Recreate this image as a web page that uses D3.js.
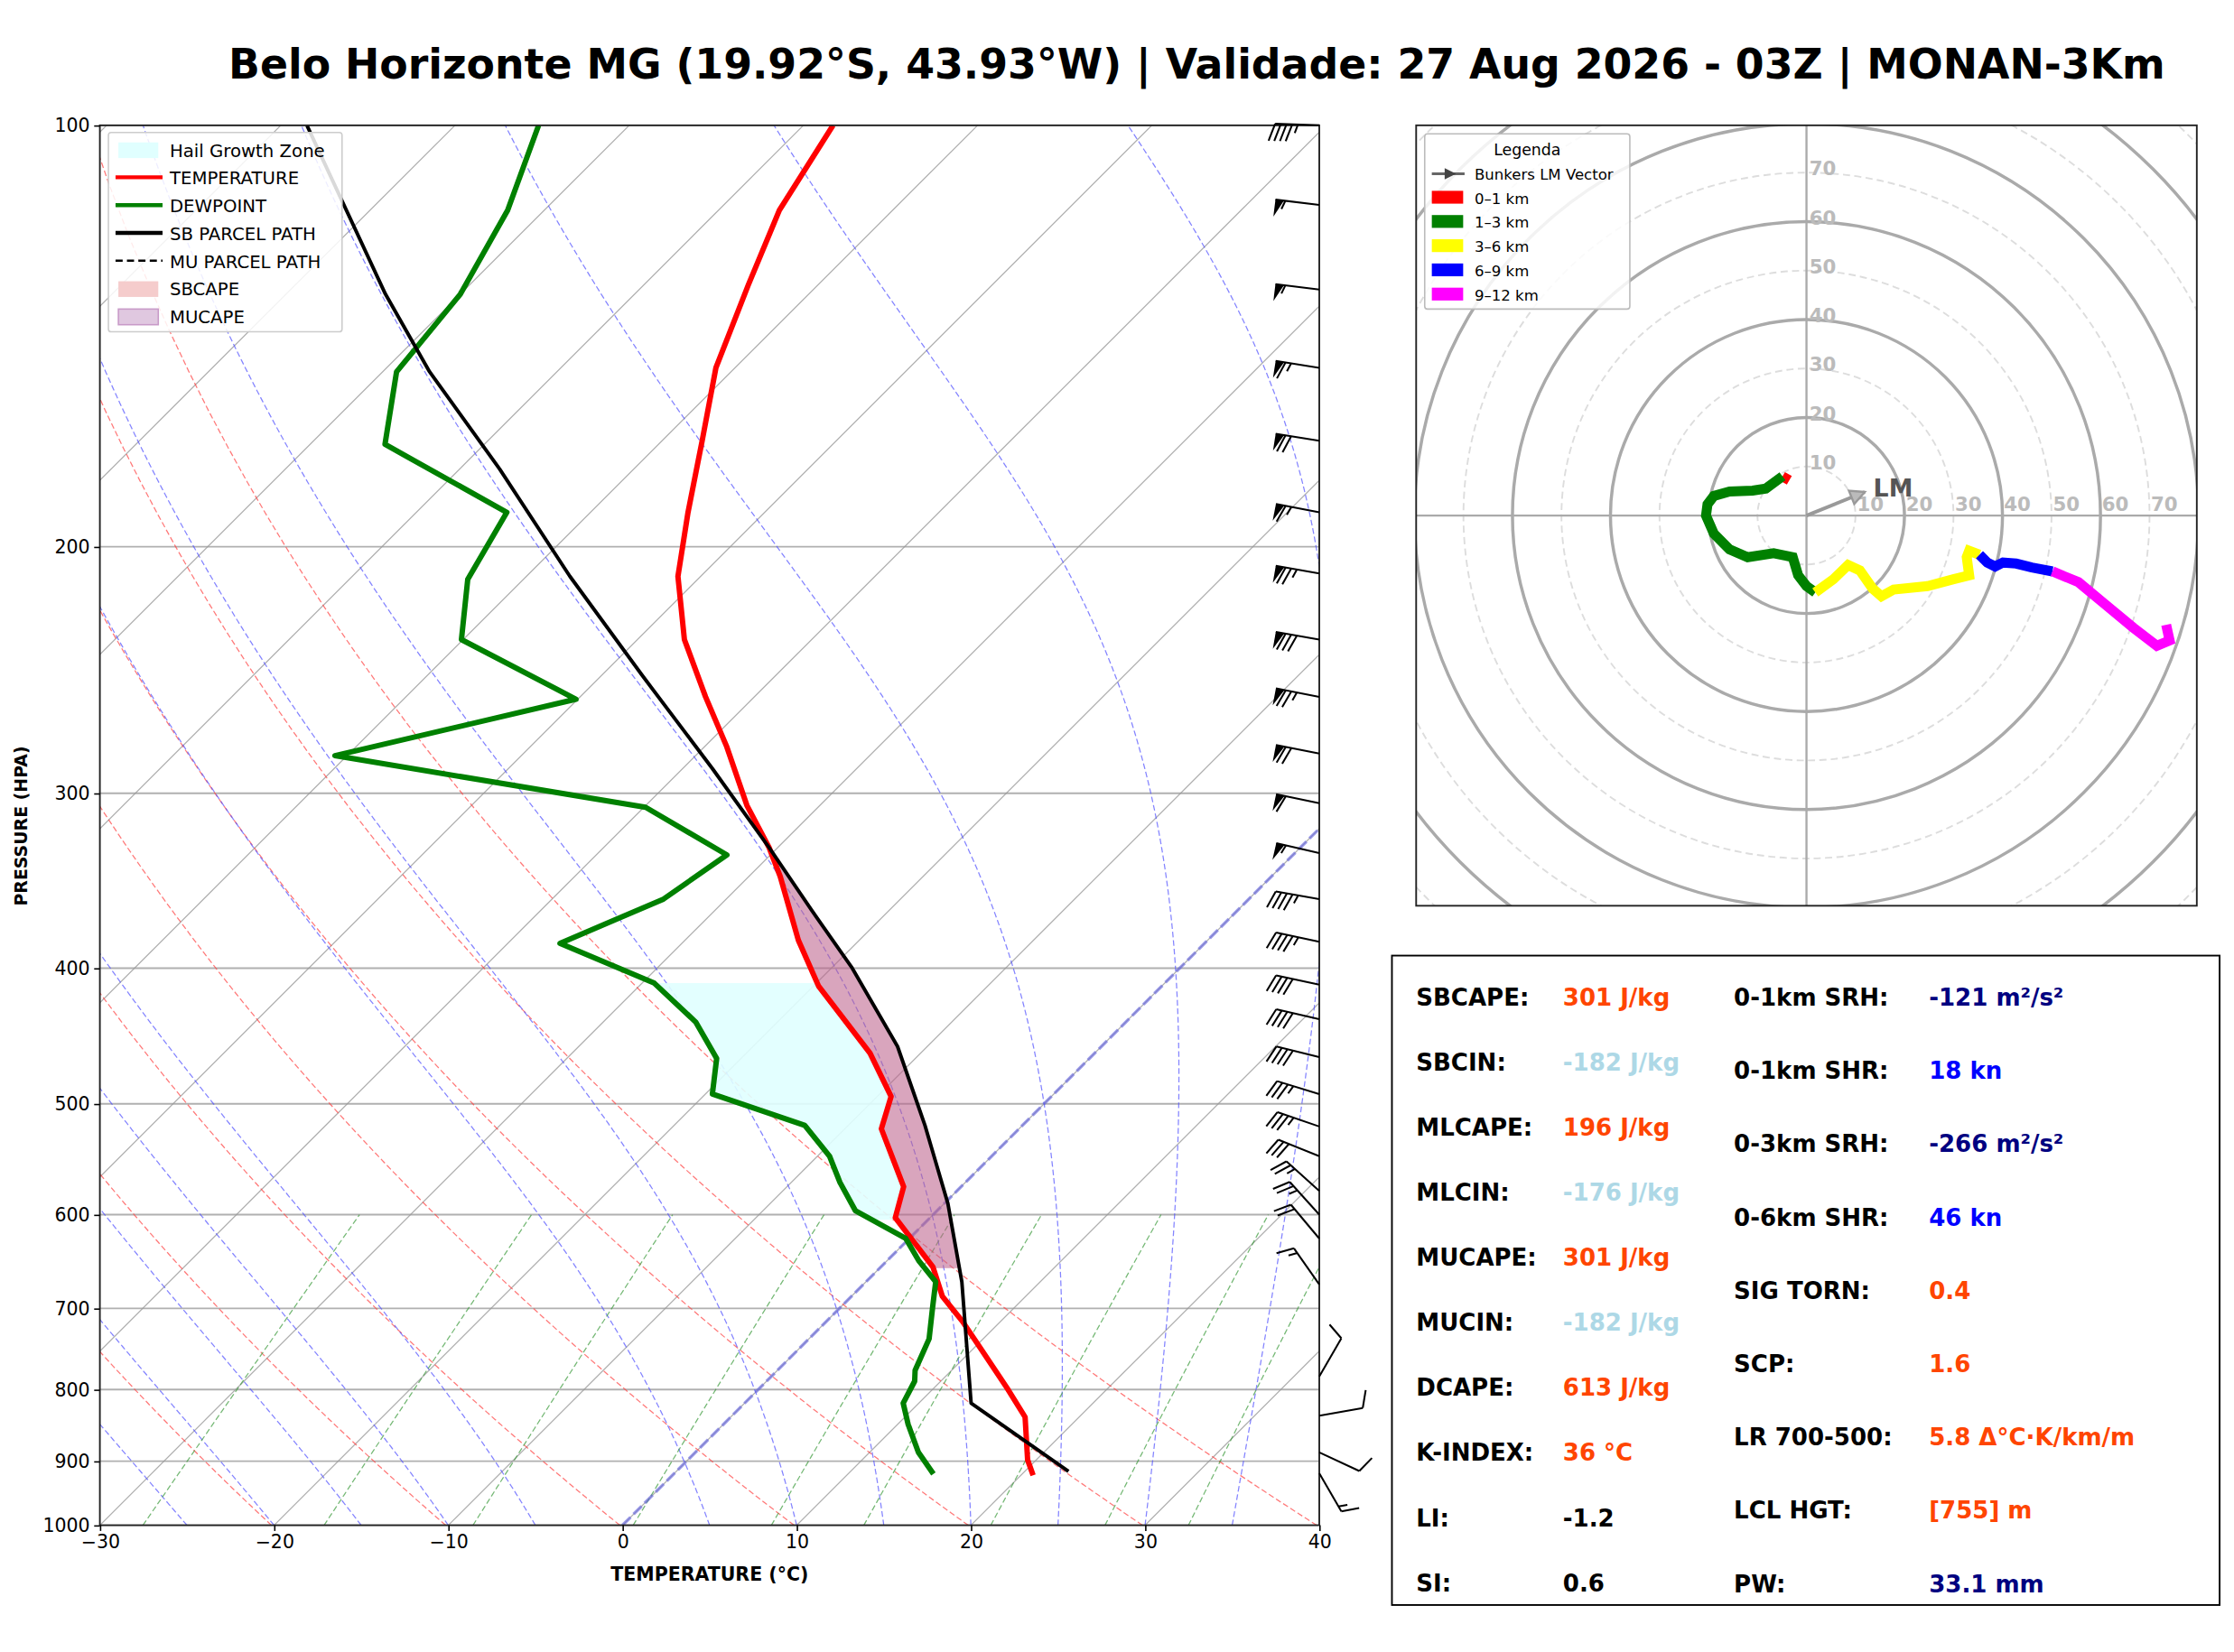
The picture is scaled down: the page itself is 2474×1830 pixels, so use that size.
<!DOCTYPE html>
<html>
<head>
<meta charset="utf-8">
<script src="https://d3js.org/d3.v7.min.js"></script>
<style>
  body { margin: 0; background: white; }
  text { font-family: "DejaVu Sans", sans-serif; }
</style>
</head>
<body>
<div id="chart"></div>
<script>
// ---- sounding data ----
var tempP = [921, 898, 837, 798, 745, 715, 686, 654, 603, 573, 521, 494, 460, 412, 382, 344, 328, 306, 278, 256, 233, 210, 189, 168, 149, 130, 115, 100];
var tempT = [20.7, 19.5, 16.9, 14.2, 10.2, 7.8, 5.2, 3.0, -2.0, -3.3, -7.9, -9.2, -12.9, -19.7, -23.5, -28.2, -30.5, -34.2, -38.7, -42.8, -47.3, -51.3, -54.4, -57.7, -61.1, -64.0, -66.5, -68.3];
var dewP = [919, 887, 847, 818, 789, 775, 736, 699, 670, 647, 624, 596, 569, 545, 518, 492, 464, 437, 410, 384, 357, 332, 307, 282, 257, 233, 211, 189, 169, 150, 132, 115, 100];
var dewT = [14.9, 12.8, 10.6, 9.1, 8.5, 7.9, 6.9, 5.3, 4.0, 1.8, -0.2, -4.7, -7.2, -9.3, -12.5, -19.6, -21.4, -24.7, -29.3, -37.0, -33.6, -32.5, -39.9, -60.7, -50.1, -60.1, -63.2, -64.8, -75.7, -79.2, -80.0, -82.1, -85.2];
var parcelP = [915, 818, 670, 589, 518, 455, 400, 364, 328, 288, 247, 210, 176, 150, 132, 114, 100];
var parcelT = [22.5, 13.0, 5.5, 0.2, -5.6, -11.7, -18.8, -24.4, -30.5, -38.3, -47.7, -57.5, -67.7, -77.3, -84.3, -91.8, -98.5];
var capeRange = [655, 330];
var hailRange = [605, 410];

// wind barbs
var barbP = [100, 114, 131, 149, 168, 189, 209, 233, 256, 281, 305, 331, 357, 383, 411, 435, 463, 492, 519, 545, 577, 600, 624, 673, 783, 835, 887, 918];
var barbSpd = [45, 55, 55, 65, 70, 65, 75, 80, 75, 70, 60, 55, 45, 45, 40, 40, 40, 35, 35, 30, 25, 25, 20, 15, 10, 10, 10, 15];
var barbDir = [272, 277, 277, 279, 279, 281, 280, 280, 281, 281, 282, 283, 280, 282, 282, 283, 284, 287, 289, 292, 312, 318, 320, 325, 30, 80, 115, 150];

// hodograph (kn)
var hodoSegments = [
  {name: "0–1 km", color: "red", u: [-3.5, -4.9], v: [7.2, 8.0]},
  {name: "1–3 km", color: "green", u: [-4.9, -8.3, -11, -15.7, -18.9, -20.2, -20.5, -18.9, -15.7, -12, -6.7, -2.8, -1.7, 0, 1.8],
                                  v: [8.0, 5.5, 5.1, 4.9, 4.0, 2.3, 0, -3.7, -6.9, -8.5, -7.7, -8.5, -12.2, -14.4, -15.7]},
  {name: "3–6 km", color: "yellow", u: [1.8, 5.5, 8.5, 10.9, 13.5, 15.3, 17.8, 24.7, 30, 33.2, 32.7, 33.2, 35.3],
                                   v: [-15.7, -13, -10.1, -11.2, -14.9, -16.5, -15.1, -14.4, -13, -12.2, -8.5, -7.2, -8]},
  {name: "6–9 km", color: "blue", u: [35.3, 36.9, 38.5, 40.1, 42.8, 46, 50.2], v: [-8, -9.6, -10.4, -9.6, -9.8, -10.6, -11.4]},
  {name: "9–12 km", color: "magenta", u: [50.2, 55.5, 60.9, 66.7, 71.5, 74.1, 73.4], v: [-11.4, -13.6, -18.1, -22.9, -26.6, -25.5, -22.3]}
];
var bunkersLM = [11.9, 4.8];

var statsLeft = [
  ["SBCAPE:", "301 J/kg", "#ff4500"], ["SBCIN:", "-182 J/kg", "#add8e6"], ["MLCAPE:", "196 J/kg", "#ff4500"],
  ["MLCIN:", "-176 J/kg", "#add8e6"], ["MUCAPE:", "301 J/kg", "#ff4500"], ["MUCIN:", "-182 J/kg", "#add8e6"],
  ["DCAPE:", "613 J/kg", "#ff4500"], ["K-INDEX:", "36 °C", "#ff4500"], ["LI:", "-1.2", "black"], ["SI:", "0.6", "black"]];
var statsRight = [
  ["0-1km SRH:", "-121 m²/s²", "#000080"], ["0-1km SHR:", "18 kn", "#0000ff"], ["0-3km SRH:", "-266 m²/s²", "#000080"],
  ["0-6km SHR:", "46 kn", "#0000ff"], ["SIG TORN:", "0.4", "#ff4500"], ["SCP:", "1.6", "#ff4500"],
  ["LR 700-500:", "5.8 Δ°C·K/km/m", "#ff4500"], ["LCL HGT:", "[755] m", "#ff4500"], ["PW:", "33.1 mm", "#000080"]];

var W = 1568, H = 1160;
var svg = d3.select("#chart").append("svg")
  .attr("width", 2474).attr("height", 1830)
  .attr("viewBox", [0, 0, W, H]);

svg.append("text").attr("x", 840).attr("y", 55).attr("text-anchor", "middle")
  .attr("font-size", 29).attr("font-weight", "bold")
  .text("Belo Horizonte MG (19.92°S, 43.93°W) | Validade: 27 Aug 2026 - 03Z | MONAN-3Km");

// ---- skew-T ----
var L = 70, R = 926, T0 = 88, B = 1071;
var xT = d3.scaleLinear().domain([-30, 40]).range([L, R]);
var yP = d3.scaleLog().domain([1000, 100]).range([B, T0]);
function sx(t, p) { return xT(t) + (B - yP(p)); }

svg.append("clipPath").attr("id", "clip").append("rect")
  .attr("x", L).attr("y", T0).attr("width", R - L).attr("height", B - T0);
var g = svg.append("g").attr("clip-path", "url(#clip)");

var line = d3.line().x(d => sx(d[1], d[0])).y(d => yP(d[0]));
var pLevels = d3.range(1000, 99, -10);

// isobars
[100, 200, 300, 400, 500, 600, 700, 800, 900, 1000].forEach(p => {
  g.append("line").attr("x1", L).attr("x2", R).attr("y1", yP(p)).attr("y2", yP(p))
    .attr("stroke", "#b0b0b0").attr("stroke-width", 1.2);
});
// isotherms
d3.range(-120, 41, 10).forEach(t => {
  g.append("path").attr("d", line([[1000, t], [100, t]])).attr("fill", "none")
    .attr("stroke", "#999").attr("stroke-width", 0.8).attr("opacity", 0.8);
});
// dry adiabats
d3.range(243, 314, 10).forEach(th => {
  var pts = pLevels.map(p => [p, th * Math.pow(p / 1000, 0.2857) - 273.15]);
  g.append("path").attr("d", line(pts)).attr("fill", "none")
    .attr("stroke", "#ff4040").attr("stroke-width", 0.8).attr("stroke-dasharray", "4,2").attr("opacity", 0.7);
});
// moist adiabats
function moistLine(t0) {
  var Rd = 287.04, Cp = 1005.7, Lv = 2.501e6, eps = 0.622;
  var T = t0 + 273.15, pts = [[1000, t0]];
  for (var p = 1000; p > 100; p -= 2) {
    var es = 6.112 * Math.exp(17.67 * (T - 273.15) / (T - 29.65));
    var rs = eps * es / (p - es);
    var dTdp = (Rd * T + Lv * rs) / (p * (Cp + Lv * Lv * rs * eps / (Rd * T * T)));
    T -= dTdp * 2;
    pts.push([p - 2, T - 273.15]);
  }
  return pts;
}
d3.range(-30, 46, 5).forEach(t0 => {
  if (t0 === 0) return;
  g.append("path").attr("d", line(moistLine(t0))).attr("fill", "none")
    .attr("stroke", "#5050ff").attr("stroke-width", 0.8).attr("stroke-dasharray", "4,2").attr("opacity", 0.7);
});
// mixing ratio lines
[0.0004, 0.001, 0.002, 0.004, 0.007, 0.01, 0.016, 0.024, 0.032].forEach(w => {
  var pts = d3.range(1000, 599, -10).map(p => {
    var e = w * p / (0.622 + w), a = Math.log(e / 6.112);
    return [p, 243.5 * a / (17.67 - a)];
  });
  g.append("path").attr("d", line(pts)).attr("fill", "none")
    .attr("stroke", "#3a9a3a").attr("stroke-width", 0.8).attr("stroke-dasharray", "4,2").attr("opacity", 0.7);
});
// 0 C isotherm
g.append("path").attr("d", line([[1000, 0], [100, 0]])).attr("fill", "none")
  .attr("stroke", "#6060e0").attr("stroke-width", 2.2).attr("stroke-dasharray", "8,3").attr("opacity", 0.6);

// interpolation in log p
function interp(ps, ts, p) {
  for (var i = 0; i < ps.length - 1; i++) {
    var a = ps[i], b = ps[i + 1];
    if ((p <= a && p >= b) || (p >= a && p <= b)) {
      var f = (Math.log(p) - Math.log(a)) / (Math.log(b) - Math.log(a));
      return ts[i] + f * (ts[i + 1] - ts[i]);
    }
  }
  return null;
}
var area = d3.area().y(d => yP(d.p)).x0(d => sx(d.a, d.p)).x1(d => sx(d.b, d.p));

// hail growth zone
var hgz = d3.range(hailRange[0], hailRange[1] - 1, -1).map(p => ({p: p, a: interp(dewP, dewT, p), b: interp(tempP, tempT, p)}));
g.append("path").attr("d", area(hgz)).attr("fill", "#e0ffff").attr("opacity", 0.9);

// CAPE shading
var cape = d3.range(capeRange[0], capeRange[1] - 1, -1).map(p => {
  var a = interp(tempP, tempT, p), b = interp(parcelP, parcelT, p);
  return {p: p, a: a, b: Math.max(a, b)};
});
g.append("path").attr("d", area(cape)).attr("fill", "#f08080").attr("opacity", 0.35);
g.append("path").attr("d", area(cape)).attr("fill", "#9b4f96").attr("opacity", 0.35);

function profile(ps, ts, color, w) {
  g.append("path").attr("d", line(ps.map((p, i) => [p, ts[i]]))).attr("fill", "none")
    .attr("stroke", color).attr("stroke-width", w).attr("stroke-linejoin", "round");
}
profile(tempP, tempT, "red", 3.8);
profile(dewP, dewT, "green", 3.8);
profile(parcelP, parcelT, "black", 2.5);

// frame
svg.append("rect").attr("x", L).attr("y", T0).attr("width", R - L).attr("height", B - T0)
  .attr("fill", "none").attr("stroke", "#222").attr("stroke-width", 1.2);

// axes
svg.append("g").attr("transform", `translate(0,${B})`)
  .call(d3.axisBottom(xT).tickValues(d3.range(-30, 41, 10)).tickSize(4).tickFormat(d => d < 0 ? "−" + (-d) : d))
  .call(a => a.select(".domain").remove())
  .selectAll("text").attr("font-size", 13).attr("font-family", "DejaVu Sans");
svg.append("g").attr("transform", `translate(${L},0)`)
  .call(d3.axisLeft(yP).tickValues([100, 200, 300, 400, 500, 600, 700, 800, 900, 1000]).tickSize(4).tickFormat(d3.format("d")))
  .call(a => a.select(".domain").remove())
  .selectAll("text").attr("font-size", 13).attr("font-family", "DejaVu Sans");
svg.append("text").attr("x", 498).attr("y", 1110).attr("text-anchor", "middle")
  .attr("font-size", 13).attr("font-weight", "bold").text("TEMPERATURE (°C)");
svg.append("text").attr("transform", "translate(19,580) rotate(-90)").attr("text-anchor", "middle")
  .attr("font-size", 12).attr("font-weight", "bold").text("PRESSURE (HPA)");

// wind barbs
var barbG = svg.append("g");
var Ls = 31;
barbP.forEach((p, i) => {
  var spd = barbSpd[i], dr = barbDir[i] * Math.PI / 180;
  var bx = R, by = yP(p);
  var ux = Math.sin(dr), uy = -Math.cos(dr); // toward where wind comes from (screen)
  var tx = bx + ux * Ls, ty = by + uy * Ls;
  var px = uy, py = -ux; // perpendicular side
  barbG.append("line").attr("x1", bx).attr("y1", by).attr("x2", tx).attr("y2", ty)
    .attr("stroke", "black").attr("stroke-width", 1.3);
  var rem = Math.round(spd / 5) * 5, pos = 0, step = 4, bl = 12;
  while (rem >= 50) {
    var sx0 = tx - ux * pos, sy0 = ty - uy * pos;
    var sx1 = tx - ux * (pos + 6), sy1 = ty - uy * (pos + 6);
    barbG.append("path").attr("d", `M${sx0},${sy0}L${sx0 + px * bl},${sy0 + py * bl}L${sx1},${sy1}Z`).attr("fill", "black");
    pos += 7; rem -= 50;
  }
  while (rem >= 10) {
    var ax = tx - ux * pos, ay = ty - uy * pos;
    barbG.append("line").attr("x1", ax).attr("y1", ay)
      .attr("x2", ax + px * bl + ux * bl * 0.35).attr("y2", ay + py * bl + uy * bl * 0.35)
      .attr("stroke", "black").attr("stroke-width", 1.3);
    pos += step; rem -= 10;
  }
  if (rem >= 5) {
    if (pos === 0) pos = step;
    var hx = tx - ux * pos, hy = ty - uy * pos;
    barbG.append("line").attr("x1", hx).attr("y1", hy)
      .attr("x2", hx + px * bl * 0.5 + ux * bl * 0.17).attr("y2", hy + py * bl * 0.5 + uy * bl * 0.17)
      .attr("stroke", "black").attr("stroke-width", 1.3);
  }
});

// ---- hodograph ----
var hx0 = 994, hy0 = 88, hs = 548;
var cx = hx0 + hs / 2, cy = hy0 + hs / 2;
var k = d3.scaleLinear().domain([0, 10]).range([0, 34.4]);
svg.append("clipPath").attr("id", "hclip").append("rect").attr("x", hx0).attr("y", hy0).attr("width", hs).attr("height", hs);
var hg = svg.append("g").attr("clip-path", "url(#hclip)");
d3.range(10, 121, 10).forEach(r => {
  var solid = r % 20 === 0;
  hg.append("circle").attr("cx", cx).attr("cy", cy).attr("r", k(r)).attr("fill", "none")
    .attr("stroke", solid ? "#aaa" : "#ddd").attr("stroke-width", solid ? 2.2 : 1.2)
    .attr("stroke-dasharray", solid ? null : "5,3");
});
hg.append("line").attr("x1", hx0).attr("x2", hx0 + hs).attr("y1", cy).attr("y2", cy).attr("stroke", "#aaa").attr("stroke-width", 1.5);
hg.append("line").attr("y1", hy0).attr("y2", hy0 + hs).attr("x1", cx).attr("x2", cx).attr("stroke", "#aaa").attr("stroke-width", 1.5);
d3.range(10, 71, 10).forEach(r => {
  hg.append("text").attr("x", cx + k(r) + 1).attr("y", cy - 3).attr("font-size", 13.5).attr("font-weight", "bold")
    .attr("fill", "#bbb").text(r);
  hg.append("text").attr("x", cx + 2).attr("y", cy - k(r) + 2).attr("font-size", 13.5).attr("font-weight", "bold")
    .attr("fill", "#bbb").text(r);
});
var hline = d3.line().x(d => cx + k(d[0])).y(d => cy - k(d[1]));
hodoSegments.forEach(s => {
  hg.append("path").attr("d", hline(s.u.map((u, i) => [u, s.v[i]]))).attr("fill", "none")
    .attr("stroke", s.color).attr("stroke-width", 7).attr("stroke-linejoin", "miter");
});
// Bunkers LM vector
var lmx = cx + k(bunkersLM[0]), lmy = cy - k(bunkersLM[1]);
hg.append("line").attr("x1", cx).attr("y1", cy).attr("x2", lmx).attr("y2", lmy).attr("stroke", "#999").attr("stroke-width", 2.5);
var ang = Math.atan2(lmy - cy, lmx - cx);
hg.append("path").attr("transform", `translate(${lmx},${lmy}) rotate(${ang * 180 / Math.PI})`)
  .attr("d", "M0,0L-10,-5L-10,5Z").attr("fill", "#bbb").attr("stroke", "#999").attr("stroke-width", 1.5);
hg.append("text").attr("x", lmx + 6).attr("y", lmy + 3).attr("font-size", 17).attr("font-weight", "bold").attr("fill", "#555").text("LM");
svg.append("rect").attr("x", hx0).attr("y", hy0).attr("width", hs).attr("height", hs).attr("fill", "none").attr("stroke", "#222").attr("stroke-width", 1.2);

// hodograph legend
var lg = svg.append("g").attr("transform", "translate(1000,94)");
lg.append("rect").attr("width", 144).attr("height", 123).attr("rx", 2).attr("fill", "white").attr("fill-opacity", 0.85).attr("stroke", "#bbb");
lg.append("text").attr("x", 72).attr("y", 15).attr("text-anchor", "middle").attr("font-size", 11).text("Legenda");
lg.append("line").attr("x1", 5).attr("x2", 28).attr("y1", 28).attr("y2", 28).attr("stroke", "#666").attr("stroke-width", 2);
lg.append("path").attr("d", "M22,28L14,24L14,32Z").attr("fill", "#444");
lg.append("text").attr("x", 35).attr("y", 32).attr("font-size", 10.5).text("Bunkers LM Vector");
hodoSegments.forEach((s, i) => {
  var yy = 45 + i * 17;
  lg.append("rect").attr("x", 5).attr("y", yy - 5).attr("width", 22).attr("height", 9).attr("fill", s.color);
  lg.append("text").attr("x", 35).attr("y", yy + 4).attr("font-size", 10.5).text(s.name);
});

// skew-T legend
var lg2 = svg.append("g").attr("transform", "translate(76,93)");
lg2.append("rect").attr("width", 164).attr("height", 140).attr("rx", 2).attr("fill", "white").attr("fill-opacity", 0.85).attr("stroke", "#ccc");
var items = [
  {t: "Hail Growth Zone", k: "rect", c: "#e0ffff"}, {t: "TEMPERATURE", k: "line", c: "red"},
  {t: "DEWPOINT", k: "line", c: "green"}, {t: "SB PARCEL PATH", k: "line", c: "black"},
  {t: "MU PARCEL PATH", k: "dash", c: "black"}, {t: "SBCAPE", k: "rect", c: "#f5cccc"}, {t: "MUCAPE", k: "rect", c: "#e0c8e0", s: "#c89ac8"}];
items.forEach((it, i) => {
  var yy = 12 + i * 19.5;
  if (it.k === "rect") lg2.append("rect").attr("x", 7).attr("y", yy - 5).attr("width", 28).attr("height", 11).attr("fill", it.c).attr("stroke", it.s || "none");
  else lg2.append("line").attr("x1", 5).attr("x2", 38).attr("y1", yy).attr("y2", yy).attr("stroke", it.c)
    .attr("stroke-width", it.k === "dash" ? 1.5 : 2.8).attr("stroke-dasharray", it.k === "dash" ? "5,3" : null);
  lg2.append("text").attr("x", 43).attr("y", yy + 5).attr("font-size", 12.5).text(it.t);
});

// ---- stats box ----
svg.append("rect").attr("x", 977).attr("y", 671).attr("width", 581).attr("height", 456).attr("fill", "white").attr("stroke", "black").attr("stroke-width", 1.2);
statsLeft.forEach((s, i) => {
  var yy = 706 + i * 45.7;
  svg.append("text").attr("x", 994).attr("y", yy).attr("font-size", 16.5).attr("font-weight", "bold").text(s[0]);
  svg.append("text").attr("x", 1097).attr("y", yy).attr("font-size", 16.5).attr("font-weight", "bold").attr("fill", s[2]).text(s[1]);
});
statsRight.forEach((s, i) => {
  var yy = 706 + i * 51.5;
  svg.append("text").attr("x", 1217).attr("y", yy).attr("font-size", 16.5).attr("font-weight", "bold").text(s[0]);
  svg.append("text").attr("x", 1354).attr("y", yy).attr("font-size", 16.5).attr("font-weight", "bold").attr("fill", s[2]).text(s[1]);
});
</script>
</body>
</html>
